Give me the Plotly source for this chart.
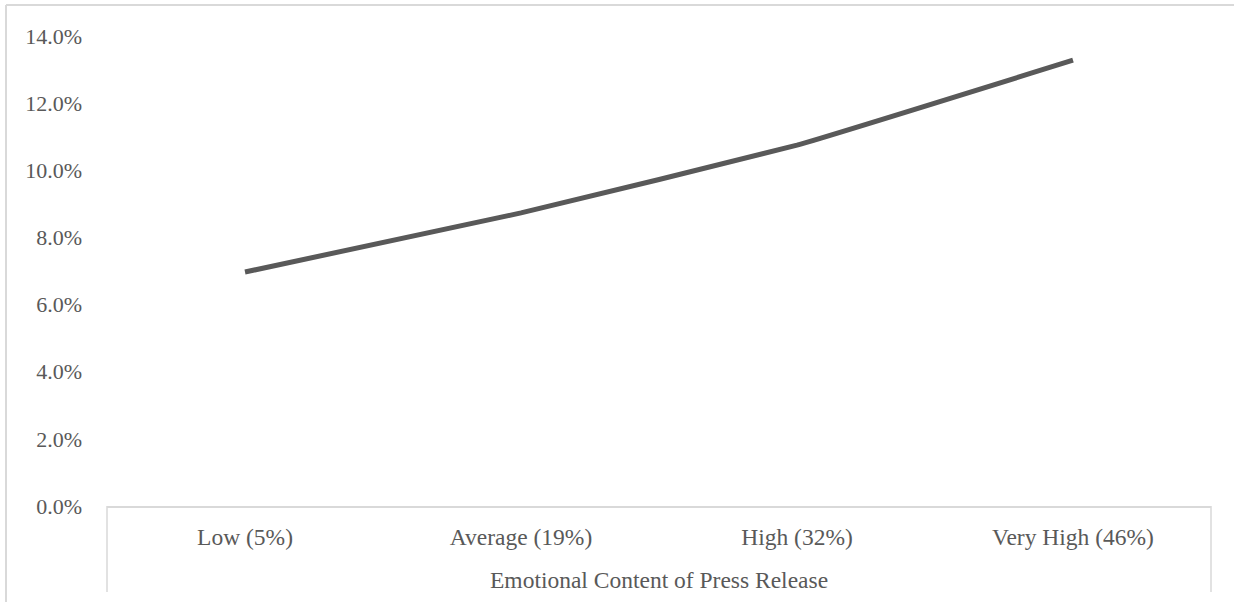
import plotly.graph_objects as go

# Data
categories = ["Low (5%)", "Average (19%)", "High (32%)", "Very High (46%)"]
rates = [0.0697, 0.0873, 0.1075, 0.1328]
y_ticks = [0.0, 0.02, 0.04, 0.06, 0.08, 0.10, 0.12, 0.14]
x_title = "Emotional Content of Press Release"

W, H = 1234, 602
L, R, T, B = 107, 23, 36, 96
plot_h = H - T - B
plot_w = W - L - R

TEXT = "#595959"
GRID = "#d9d9d9"
FONT = "Liberation Serif, Times New Roman, serif"

fig = go.Figure()
fig.add_trace(go.Scatter(
    x=categories, y=rates, mode="lines",
    line=dict(color="#595959", width=5, shape="spline", smoothing=0.3),
    hoverinfo="x+y",
))

def px_to_paper_x(px):
    return (px - L) / plot_w

def px_to_paper_y(py):
    return (H - B - py) / plot_h

shapes = [
    # outer frame: top and left edges
    dict(type="line", xref="paper", yref="paper",
         x0=px_to_paper_x(6), x1=px_to_paper_x(W), y0=px_to_paper_y(5), y1=px_to_paper_y(5),
         line=dict(color=GRID, width=2)),
    dict(type="line", xref="paper", yref="paper",
         x0=px_to_paper_x(6), x1=px_to_paper_x(6), y0=px_to_paper_y(5), y1=px_to_paper_y(H),
         line=dict(color=GRID, width=2)),
    # category box sides
    dict(type="line", xref="paper", yref="paper",
         x0=0, x1=0, y0=0, y1=px_to_paper_y(592),
         line=dict(color=GRID, width=1.5)),
    dict(type="line", xref="paper", yref="paper",
         x0=1, x1=1, y0=0, y1=px_to_paper_y(592),
         line=dict(color=GRID, width=1.5)),
]

fig.update_layout(
    width=W, height=H,
    margin=dict(l=L, r=R, t=T, b=B, pad=0),
    paper_bgcolor="white", plot_bgcolor="white",
    showlegend=False,
    font=dict(family=FONT, size=22, color=TEXT),
    shapes=shapes,
    annotations=[dict(
        text=x_title, xref="paper", yref="paper",
        x=0.5, y=px_to_paper_y(580), xanchor="center", yanchor="middle",
        showarrow=False, font=dict(family=FONT, size=23.5, color=TEXT),
    )],
    xaxis=dict(
        showgrid=False, zeroline=False,
        showline=True, linecolor=GRID, linewidth=1.5,
        ticks="", ticklabelstandoff=9,
        tickfont=dict(size=23.5),
        range=[-0.5, 3.5],
    ),
    yaxis=dict(
        showgrid=False, zeroline=False, showline=False,
        range=[0, 0.14], tickvals=y_ticks, tickformat=".1%",
        ticks="", ticklabelstandoff=24,
    ),
)

fig.write_html("out.html")
